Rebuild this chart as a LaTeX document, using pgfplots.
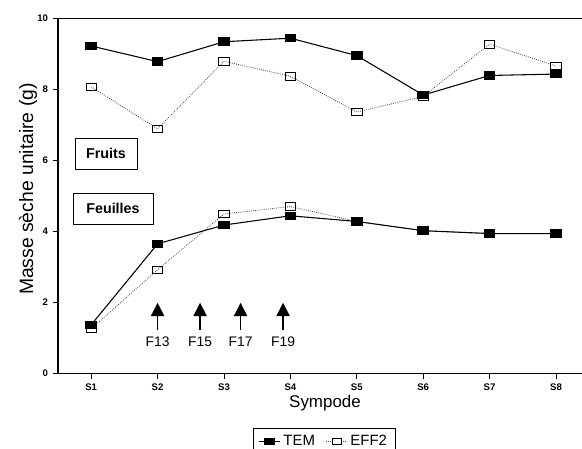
\documentclass[border=0pt]{standalone}
\usepackage{pgfplots}
\pgfplotsset{compat=1.18}
\usepackage{fontspec}
\setmainfont{Liberation Sans}
\usetikzlibrary{arrows.meta,shadows}

\begin{document}
\begin{tikzpicture}[
  arr/.style={line width=0.9pt, -{Triangle[width=10pt,length=10pt]}},
  flab/.style={font=\fontsize{10.4}{12}\selectfont, anchor=center},
]
\begin{axis}[
  at={(0,0)}, anchor=south west,
  scale only axis, width=393.4pt, height=266.4pt,
  xmin=0.5, xmax=8.4, ymin=0, ymax=10,
  xtick={1,2,3,4,5,6,7,8},
  xticklabels={S1,S2,S3,S4,S5,S6,S7,S8},
  ytick={0,2,4,6,8,10},
  tick pos=left, tick align=outside,
  major tick length=4pt,
  axis line style={line width=0.9pt},
  tick style={line width=0.7pt, black},
  /pgf/number format/assume math mode=true,
  tick label style={font=\bfseries\fontsize{7.2}{8}\selectfont},
  every axis x label/.style={at={(rel axis cs:0.509,-0.0822)}, anchor=center, font=\fontsize{12.7}{14}\selectfont},
  every axis y label/.style={at={(rel axis cs:-0.057,0.519)}, rotate=90, anchor=center, font=\fontsize{14.5}{16}\selectfont},
  xlabel={Sympode},
  ylabel={Masse sèche unitaire (g)},
  legend style={at={(rel axis cs:0.507,-0.1536)}, anchor=north, legend columns=2,
    draw=black, line width=0.6pt, font=\fontsize{11.2}{13}\selectfont,
    inner xsep=4pt, inner ysep=3pt,
    /tikz/every even column/.append style={column sep=6pt}},
  legend cell align=left,
]
% EFF2 (drawn first)
\addplot[forget plot, densely dotted, black!75, line width=0.6pt,
  mark=square, mark size=2.8pt, mark options={solid, fill=white, draw=black, line width=0.6pt, xscale=1.4}]
  coordinates {(1,8.07) (2,6.89) (3,8.79) (4,8.37) (5,7.36) (6,7.80) (7,9.27) (8,8.66)};
\addplot[forget plot, densely dotted, black!75, line width=0.6pt,
  mark=square, mark size=2.8pt, mark options={solid, fill=white, draw=black, line width=0.6pt, xscale=1.4}]
  coordinates {(1,1.26) (2,2.92) (3,4.49) (4,4.70) (5,4.28) (6,4.02) (7,3.94) (8,3.94)};
% TEM
\addplot[forget plot, black, line width=0.8pt,
  mark=square*, mark size=2.8pt, mark options={solid, fill=black, xscale=1.4}]
  coordinates {(1,9.22) (2,8.78) (3,9.34) (4,9.44) (5,8.95) (6,7.84) (7,8.39) (8,8.43)};
\addplot[forget plot, black, line width=0.8pt,
  mark=square*, mark size=2.8pt, mark options={solid, fill=black, xscale=1.4}]
  coordinates {(1,1.37) (2,3.65) (3,4.18) (4,4.44) (5,4.28) (6,4.02) (7,3.94) (8,3.94)};

\addlegendimage{legend image code/.code={
  \draw[black, line width=0.9pt] (0pt,0pt) -- (16pt,0pt);
  \fill[black] (4.5pt,-2.2pt) rectangle (11.5pt,2.2pt);}}
\addlegendentry{TEM}
\addlegendimage{legend image code/.code={
  \draw[black!75, densely dotted, line width=0.6pt] (0pt,0pt) -- (16pt,0pt);
  \draw[black, fill=white, line width=0.5pt] (4.5pt,-2.2pt) rectangle (11.5pt,2.2pt);}}
\addlegendentry{EFF2}

% text boxes
\node[draw=black, line width=0.5pt, fill=white,
  drop shadow={shadow xshift=0.9pt, shadow yshift=-0.9pt, fill=black!60, opacity=1},
  minimum width=46.5pt, minimum height=23.3pt, inner sep=0pt,
  font=\bfseries\fontsize{10.7}{12}\selectfont] at (axis cs:1.223,6.19) {Fruits};
\node[draw=black, line width=0.5pt, fill=white,
  drop shadow={shadow xshift=0.9pt, shadow yshift=-0.9pt, fill=black!60, opacity=1},
  minimum width=60pt, minimum height=23.3pt, inner sep=0pt,
  font=\bfseries\fontsize{10.7}{12}\selectfont] at (axis cs:1.328,4.645) {Feuilles};

% arrows
\draw[arr] (axis cs:2.0,1.22) -- (axis cs:2.0,1.99);
\draw[arr] (axis cs:2.64,1.22) -- (axis cs:2.64,1.99);
\draw[arr] (axis cs:3.25,1.22) -- (axis cs:3.25,1.99);
\draw[arr] (axis cs:3.89,1.22) -- (axis cs:3.89,1.99);
\node[flab] at (axis cs:2.0,0.9) {F13};
\node[flab] at (axis cs:2.64,0.9) {F15};
\node[flab] at (axis cs:3.25,0.9) {F17};
\node[flab] at (axis cs:3.89,0.9) {F19};
\end{axis}
\pgfresetboundingbox
\useasboundingbox (-43.5pt,-56.625pt) rectangle (393pt,280.125pt);
\end{tikzpicture}
\end{document}
